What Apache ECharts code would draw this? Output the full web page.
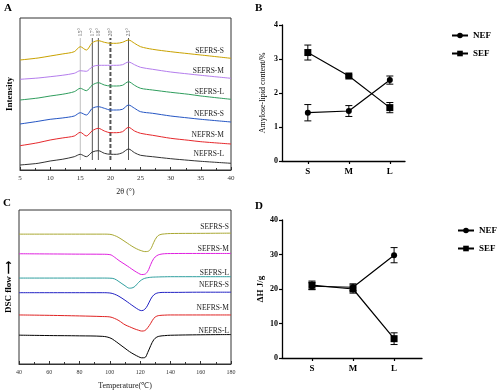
<!DOCTYPE html>
<html>
<head>
<meta charset="utf-8">
<script src="https://cdn.jsdelivr.net/npm/echarts@6/dist/echarts.min.js"></script>
<style>html,body{margin:0;padding:0;background:#fff}#c{width:500px;height:391px}</style>
</head>
<body>
<div id="c"></div>
<script>
// ---------- Panel A: XRD ----------
const xrdAngles = [5, 8, 10, 12, 14, 15, 16, 17, 18, 19, 20, 21, 22, 23, 24, 25, 27, 30, 33, 35, 40];
const xrdSEFRS_S = [110, 112, 114, 116, 118.3, 123.3, 120, 127.3, 129.3, 127.7, 126.7, 126.7, 127.7, 130, 126.7, 123.3, 120.7, 118.3, 116.3, 115, 111.7];
const xrdSEFRS_M = [90.7, 92, 93.3, 94.7, 96.7, 99.3, 98.7, 103.3, 104.7, 104.7, 104.7, 104.7, 105.3, 108, 105.3, 102.7, 100.7, 98, 96, 94.7, 91.7];
const xrdSEFRS_L = [70, 72, 74, 75.7, 78.3, 81.7, 79.3, 85, 87.3, 85, 84, 84, 84.7, 88.3, 84.7, 81.7, 80, 77.7, 75.7, 74, 70.7];
const xrdNEFRS_S = [46, 48.7, 50.7, 52, 54, 57.3, 55, 61.7, 63.3, 61.7, 60, 60, 60.7, 65, 61.7, 58.3, 56.7, 54, 52, 50.7, 48];
const xrdNEFRS_M = [24.3, 27.3, 30, 32, 34, 37.7, 34, 39.3, 41.7, 39, 37.3, 37.3, 38.3, 42.7, 39, 36.7, 34.7, 31.7, 29.7, 28.3, 26];
const xrdNEFRS_L = [5, 6.7, 9, 10.7, 13.3, 15.7, 13.3, 18, 19.3, 16.7, 15.7, 15.7, 17.3, 21, 17.3, 14.7, 13.3, 11.3, 9.7, 8.7, 6.7];
const sampleNames = ['SEFRS-S', 'SEFRS-M', 'SEFRS-L', 'NEFRS-S', 'NEFRS-M', 'NEFRS-L'];
const refAngles = [15, 17, 18, 20, 23];
const refLabels = ['15°', '17°', '18°', '20°', '23°'];
const refSpan = [10, 132];

// ---------- Panel C: DSC ----------
const dscTemps = [40, 60, 80, 95, 100, 103, 106, 110, 113, 116, 119, 121, 123, 125, 127, 129, 131, 133, 136, 140, 160, 180];
const dscSEFRS_S = [132.4, 132.4, 132.4, 132.4, 132.2, 131, 128.8, 124.8, 121.7, 118.8, 116.5, 115.4, 114.6, 114.8, 117.4, 124, 129.5, 131.8, 132.6, 133, 133.2, 133.4];
const dscSEFRS_M = [112.4, 112.2, 112, 111.9, 111.5, 109, 105.5, 101.5, 98.4, 95.2, 92.4, 91.2, 91.5, 94.5, 101.5, 107.5, 110.4, 111.7, 112.4, 112.6, 112.7, 112.7];
const dscSEFRS_L = [87.6, 87.6, 87.6, 87.6, 87.5, 86.8, 84, 79.8, 77.3, 78.5, 83.2, 85.8, 87.3, 88, 88.4, 88.6, 88.7, 88.8, 88.9, 89, 89, 89];
const dscNEFRS_S = [72.7, 72.7, 72.7, 72.7, 72.4, 71.2, 69, 65, 61.7, 58.4, 55.4, 54.4, 55.7, 60, 66.2, 70.4, 72.2, 72.8, 73, 73, 73.2, 73.2];
const dscNEFRS_M = [50, 49.6, 49, 48.4, 48, 46.5, 44.2, 40, 38, 36, 34.4, 33.6, 34, 37, 41.5, 46.5, 48.8, 49.5, 49.8, 50, 50, 50];
const dscNEFRS_L = [29.4, 29, 28.7, 28.2, 26.7, 24, 20.6, 16, 12.6, 9.8, 7.4, 6.3, 6.5, 11.7, 18.8, 24.7, 27.4, 28.4, 28.9, 29.3, 29.8, 30];

// ---------- Panels B & D ----------
const groups = ['S', 'M', 'L'];
const groupPos = [1, 2, 3];
const alNEF = [1.42, 1.47, 2.38];
const alNEFerr = [0.24, 0.16, 0.12];
const alSEF = [3.19, 2.50, 1.57];
const alSEFerr = [0.22, 0.03, 0.15];
const dhNEF = [20.8, 20.5, 29.8];
const dhNEFerr = [1.0, 1.0, 2.2];
const dhSEF = [21.1, 20.0, 5.6];
const dhSEFerr = [1.2, 1.2, 1.7];

const FONT = "'Liberation Serif','Times New Roman',serif";
const xrdColors = ['#c9a200', '#b47ded', '#2f9d5d', '#2556c4', '#e6282c', '#333333'];
const dscColors = ['#a9a832', '#e020e0', '#2f9f9f', '#2222c4', '#e02222', '#000000'];

const chart = echarts.init(document.getElementById('c'));

const pairs = (xs, ys) => xs.map((x, i) => [x, ys[i]]);
const xrdSets = [xrdSEFRS_S, xrdSEFRS_M, xrdSEFRS_L, xrdNEFRS_S, xrdNEFRS_M, xrdNEFRS_L];
const dscSets = [dscSEFRS_S, dscSEFRS_M, dscSEFRS_L, dscNEFRS_S, dscNEFRS_M, dscNEFRS_L];

const series = [];
xrdSets.forEach((ys, i) => {
  series.push({
    type: 'line', name: 'xrd-' + sampleNames[i], xAxisIndex: 0, yAxisIndex: 0,
    data: pairs(xrdAngles, ys), showSymbol: false, smooth: 0.3,
    lineStyle: { color: xrdColors[i], width: 1 }, silent: true
  });
});
refAngles.forEach((a, i) => {
  const dashed = a === 20;
  const light = a === 15;
  series.push({
    type: 'line', xAxisIndex: 0, yAxisIndex: 0, showSymbol: false, silent: true, symbol: 'none', z: 1,
    lineStyle: { color: light ? '#b0b0b0' : '#555', width: dashed ? 2 : (light ? 0.8 : 1), type: dashed ? [4, 2] : 'solid' },
    data: [[a, refSpan[0]], [a, refSpan[1]]]
  });
});
series.push({
  type: 'scatter', xAxisIndex: 0, yAxisIndex: 0, silent: true, symbolSize: 1,
  itemStyle: { color: 'rgba(0,0,0,0)' },
  data: refAngles.map(a => [a, refSpan[1]]),
  label: { show: true, formatter: p => refLabels[p.dataIndex], position: 'top', distance: 1, rotate: 90,
    align: 'left', verticalAlign: 'middle', fontSize: 6, fontFamily: FONT, color: '#444' }
});
dscSets.forEach((ys, i) => {
  series.push({
    type: 'line', name: 'dsc-' + sampleNames[i], xAxisIndex: 2, yAxisIndex: 2,
    data: pairs(dscTemps, ys), showSymbol: false, smooth: 0.4,
    lineStyle: { color: dscColors[i], width: 1 }, silent: true
  });
});

function errSeries(xi, yi, vals, errs) {
  return {
    type: 'custom', xAxisIndex: xi, yAxisIndex: yi, silent: true, z: 1,
    data: groupPos.map((p, i) => [p, vals[i], errs[i]]),
    encode: { x: 0, y: 1 },
    renderItem: function (params, api) {
      const x = api.value(0), y = api.value(1), e = api.value(2);
      const t = api.coord([x, y + e]), b = api.coord([x, y - e]);
      const w = 3.5;
      const st = { stroke: '#000', lineWidth: 1 };
      return {
        type: 'group', children: [
          { type: 'line', shape: { x1: t[0], y1: t[1], x2: b[0], y2: b[1] }, style: st },
          { type: 'line', shape: { x1: t[0] - w, y1: t[1], x2: t[0] + w, y2: t[1] }, style: st },
          { type: 'line', shape: { x1: b[0] - w, y1: b[1], x2: b[0] + w, y2: b[1] }, style: st }
        ]
      };
    }
  };
}
function meanSeries(name, xi, yi, vals, symbol, size) {
  return {
    type: 'line', name: name, xAxisIndex: xi, yAxisIndex: yi, z: 3,
    data: groupPos.map((p, i) => [p, vals[i]]),
    symbol: symbol, symbolSize: size, showSymbol: true,
    itemStyle: { color: '#000' }, lineStyle: { color: '#000', width: 1.2 }, silent: true
  };
}
series.push(errSeries(1, 1, alNEF, alNEFerr), errSeries(1, 1, alSEF, alSEFerr));
series.push(meanSeries('NEF', 1, 1, alNEF, 'circle', 6), meanSeries('SEF', 1, 1, alSEF, 'rect', 7));
series.push(errSeries(3, 3, dhNEF, dhNEFerr), errSeries(3, 3, dhSEF, dhSEFerr));
series.push(meanSeries('NEF', 3, 3, dhNEF, 'circle', 6), meanSeries('SEF', 3, 3, dhSEF, 'rect', 7));

const boxAxisLabel = { fontSize: 7, fontFamily: FONT, color: '#333', margin: 5 };
const catLabel = { fontSize: 9, fontFamily: FONT, fontWeight: 'bold', color: '#000', margin: 6 };
const blackLine = { show: true, lineStyle: { color: '#000', width: 1.3 } };

const texts = [];
function txt(x, y, s, size, opts) {
  texts.push({ type: 'text', x: x, y: y, style: Object.assign({ text: s, font: (opts && opts.bold ? 'bold ' : '') + size + 'px ' + FONT, fill: '#000', textAlign: 'left', textVerticalAlign: 'middle' }, opts && opts.style) });
}
txt(4, 8, 'A', 11, { bold: true });
txt(255, 8, 'B', 11, { bold: true });
txt(3, 203, 'C', 11, { bold: true });
txt(255, 206, 'D', 11, { bold: true });
const xrdLabelY = [51, 71, 92, 114, 135, 154];
sampleNames.forEach((n, i) => txt(224, xrdLabelY[i], n, 7.5, { style: { textAlign: 'right', fill: '#222' } }));
const dscLabelY = [227, 249, 273, 285, 308, 331];
sampleNames.forEach((n, i) => txt(229, dscLabelY[i], n, 7.5, { style: { textAlign: 'right', fill: '#222' } }));

const option = {
  animation: false,
  backgroundColor: '#fff',
  textStyle: { fontFamily: FONT },
  grid: [
    { left: 20, top: 18, width: 211, height: 152, show: true, borderColor: '#333', borderWidth: 1 },
    { left: 282, top: 25, width: 123, height: 136 },
    { left: 19, top: 210, width: 212, height: 157, show: true, borderColor: '#333', borderWidth: 1 },
    { left: 282, top: 220, width: 140, height: 138 }
  ],
  xAxis: [
    { gridIndex: 0, type: 'value', min: 5, max: 40, interval: 5,
      axisLine: { show: true, lineStyle: { color: '#333', width: 1 } },
      axisTick: { inside: true, length: 3, lineStyle: { color: '#333' } },
      minorTick: { show: true, splitNumber: 2, length: 2, lineStyle: { color: '#333' } },
      splitLine: { show: false }, axisLabel: boxAxisLabel,
      name: '2θ (°)', nameLocation: 'middle', nameGap: 18, nameTextStyle: { fontSize: 8, fontFamily: FONT, color: '#222' } },
    { gridIndex: 1, type: 'value', min: 0.37, max: 3.37,
      axisLine: blackLine, splitLine: { show: false },
      axisTick: { show: true, length: 3, customValues: groupPos, lineStyle: { color: '#000', width: 1.2 } },
      axisLabel: Object.assign({ customValues: groupPos, formatter: v => groups[Math.round(v) - 1] }, catLabel) },
    { gridIndex: 2, type: 'value', min: 40, max: 180, interval: 20,
      axisLine: { show: true, lineStyle: { color: '#333', width: 1 } },
      axisTick: { inside: true, length: 3, lineStyle: { color: '#333' } },
      minorTick: { show: true, splitNumber: 2, length: 2, lineStyle: { color: '#333' } },
      splitLine: { show: false }, axisLabel: Object.assign({}, boxAxisLabel, { fontSize: 6 }),
      name: 'Temperature(℃)', nameLocation: 'middle', nameGap: 18, nameTextStyle: { fontSize: 8, fontFamily: FONT, color: '#222' } },
    { gridIndex: 3, type: 'value', min: 0.27, max: 3.68,
      axisLine: blackLine, splitLine: { show: false },
      axisTick: { show: true, length: 3, customValues: groupPos, lineStyle: { color: '#000', width: 1.2 } },
      axisLabel: Object.assign({ customValues: groupPos, formatter: v => groups[Math.round(v) - 1] }, catLabel) }
  ],
  yAxis: [
    { gridIndex: 0, type: 'value', min: 0, max: 152, axisLine: { show: false }, axisTick: { show: false }, axisLabel: { show: false }, splitLine: { show: false },
      name: 'Intensity', nameLocation: 'middle', nameGap: 6, nameRotate: 90, nameTextStyle: { fontSize: 9, fontWeight: 'bold', fontFamily: FONT, color: '#000' } },
    { gridIndex: 1, type: 'value', min: 0, max: 4, interval: 1, axisLine: blackLine,
      axisTick: { show: true, length: 3, lineStyle: { color: '#000', width: 1.2 } },
      axisLabel: { fontSize: 8, fontWeight: 'bold', fontFamily: FONT, color: '#000', margin: 4 }, splitLine: { show: false },
      name: 'Amylose-lipid content/%', nameLocation: 'middle', nameGap: 15, nameRotate: 90, nameTextStyle: { fontSize: 8, fontFamily: FONT, color: '#000' } },
    { gridIndex: 2, type: 'value', min: 0, max: 157, axisLine: { show: false }, axisTick: { show: false }, axisLabel: { show: false }, splitLine: { show: false },
      name: 'DSC flow ⟶', nameLocation: 'middle', nameGap: 6, nameRotate: 90, nameTextStyle: { fontSize: 9, fontWeight: 'bold', fontFamily: FONT, color: '#000' } },
    { gridIndex: 3, type: 'value', min: 0, max: 40, interval: 10, axisLine: blackLine,
      axisTick: { show: true, length: 3, lineStyle: { color: '#000', width: 1.2 } },
      axisLabel: { fontSize: 8, fontWeight: 'bold', fontFamily: FONT, color: '#000', margin: 4 }, splitLine: { show: false },
      name: 'ΔH J/g', nameLocation: 'middle', nameGap: 17, nameRotate: 90, nameTextStyle: { fontSize: 9, fontWeight: 'bold', fontFamily: FONT, color: '#000' } }
  ],
  legend: [
    { left: 446, top: 26, orient: 'vertical', itemGap: 9, itemWidth: 16, itemHeight: 7, data: ['NEF', 'SEF'], selectedMode: false,
      textStyle: { fontSize: 9, fontWeight: 'bold', fontFamily: FONT, color: '#000' } },
    { left: 452, top: 221, orient: 'vertical', itemGap: 9, itemWidth: 16, itemHeight: 7, data: ['NEF', 'SEF'], selectedMode: false,
      textStyle: { fontSize: 9, fontWeight: 'bold', fontFamily: FONT, color: '#000' } }
  ],
  graphic: texts,
  series: series
};
chart.setOption(option);
</script>
</body>
</html>
